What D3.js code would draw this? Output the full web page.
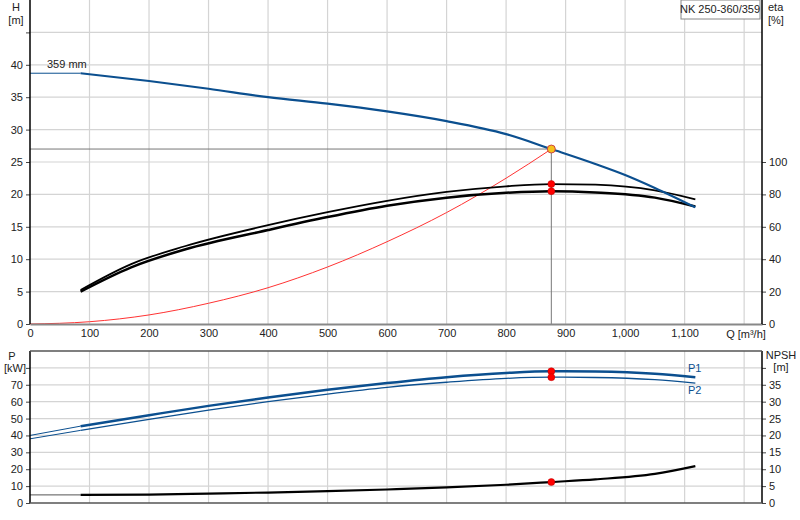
<!doctype html>
<meta charset="utf-8">
<style>
body{margin:0;background:#fff;font-family:Arial,"Liberation Sans",sans-serif}
text{font-size:11px;fill:#222}
</style>
<script src="https://cdn.jsdelivr.net/npm/d3@7"></script>
<svg id="c" width="800" height="520"></svg>
<script>
// pump curve data
var qH = [85,200,300,400,500,600,700,800,876,950,1000,1050,1118];
var head = [38.7,37.5,36.3,35.0,34.0,32.8,31.3,29.3,27.0,24.7,23.0,21.0,18.0];
var qEta = [85,170,260,400,500,600,700,800,876,950,1050,1118];
var eta1 = [21,37,48,61,69,76,81.5,85,86.4,86,82.5,77];
var eta2 = [20,35,46,58,66,73,78,81,82,81.2,78,72.5];
var qSys = [0,100,200,300,400,500,600,700,800,876];
var sysH = [0,0.35,1.4,3.2,5.6,8.8,12.7,17.2,22.5,27.0];
var qP = [85,200,300,400,500,600,700,800,876,950,1050,1118];
var p1 = [45.5,52,57.5,62.5,67,71,74.5,77,78,77.8,76.5,74.5];
var p2 = [43,49.5,55,60,64.5,68.5,71.5,73.8,74.5,74.3,73,71];
var npsh = [2.4,2.5,2.8,3.1,3.5,4.0,4.6,5.4,6.2,7.0,8.6,10.9];
var dutyQ = 876, dutyH = 27.0;
var xTicks = [0,100,200,300,400,500,600,700,800,900,1000,1100];

var svg = d3.select("#c");
var L = 30, R = 762;
var x = d3.scaleLinear().domain([0,1230]).range([L,R]);
var yH = d3.scaleLinear().domain([0,50]).range([324,0]);
var yEta = d3.scaleLinear().domain([0,200]).range([324,0]);
var yP = d3.scaleLinear().domain([0,90]).range([503,351]);
var yN = d3.scaleLinear().domain([0,45]).range([503,351]);
var grid = "#d4d4d4", blue = "#0b4f8f";

function gridlines(y0, y1, ys) {
  svg.append("g").selectAll("line").data(d3.range(100,1300,100)).enter().append("line")
    .attr("x1", x).attr("x2", x).attr("y1", y0).attr("y2", y1)
    .attr("stroke", grid).attr("stroke-width", 1.2);
  svg.append("g").selectAll("line").data(ys).enter().append("line")
    .attr("x1", L).attr("x2", R).attr("y1", d => d).attr("y2", d => d)
    .attr("stroke", grid).attr("stroke-width", 1.2);
}
gridlines(0, 324, d3.range(5,50,5).map(yH));
gridlines(351, 503, d3.range(10,90,10).map(yP));

var line = (xs, ys, sx, sy) => d3.line().curve(d3.curveMonotoneX)(xs.map((q,i) => [x(q), sy(ys[i])]));
function path(d, col, w) {
  svg.append("path").attr("d", d).attr("fill","none").attr("stroke",col).attr("stroke-width",w);
}
// thin lead-ins
path(d3.line()([[L,yH(head[0])],[x(qH[0]),yH(head[0])]]), blue, 1);
path(d3.line()([[L,yP(40)],[x(qP[0]),yP(p1[0])]]), blue, 1);
path(d3.line()([[L,yP(38)],[x(qP[0]),yP(p2[0])]]), blue, 1);
path(d3.line()([[L,yN(npsh[0])],[x(qP[0]),yN(npsh[0])]]), "#555", 1);

// duty lines
path(d3.line()([[L,yH(dutyH)],[x(dutyQ),yH(dutyH)],[x(dutyQ),324]]), "#777", 1);

path(line(qSys, sysH, x, yH), "#f33", 1);
path(line(qEta, eta1, x, yEta), "#000", 1.8);
path(line(qEta, eta2, x, yEta), "#000", 2.5);
path(line(qH, head, x, yH), blue, 2.2);
path(line(qP, p1, x, yP), blue, 2.5);
path(line(qP, p2, x, yP), blue, 1.3);
path(line(qP, npsh, x, yN), "#000", 2.2);

function dot(cx, cy, col) {
  svg.append("circle").attr("cx",cx).attr("cy",cy).attr("r",3.5).attr("fill",col).attr("stroke","#b00").attr("stroke-width",0.5);
}
var iD = qEta.indexOf(dutyQ);
dot(x(dutyQ), yEta(eta1[iD]), "#f00");
dot(x(dutyQ), yEta(eta2[iD]), "#f00");
svg.append("circle").attr("cx",x(dutyQ)).attr("cy",yH(dutyH)).attr("r",4).attr("fill","#f6c21b").attr("stroke","#c44").attr("stroke-width",1);
var iP = qP.indexOf(dutyQ);
dot(x(dutyQ), yP(p1[iP]), "#f00");
dot(x(dutyQ), yP(p2[iP]), "#f00");
dot(x(dutyQ), yN(npsh[iP]), "#f00");

// axes
svg.append("g").attr("transform","translate(0,324)").call(d3.axisBottom(x).tickValues(xTicks).tickSize(0).tickPadding(5).tickFormat(d3.format(",")))
  .call(g => g.select(".domain").attr("stroke","#888").attr("stroke-width",2));
function yAxis(scale, tx, gen, vals, fmt) {
  svg.append("g").attr("transform","translate("+tx+",0)")
    .call(gen(scale).tickValues(vals).tickSize(4).tickFormat(fmt))
    .call(g => g.select(".domain").remove())
    .call(g => g.selectAll("line").attr("stroke","#444"));
}
yAxis(yH, L, d3.axisLeft, d3.range(0,50,5), d => d <= 40 ? d : "");
yAxis(yEta, R, d3.axisRight, d3.range(0,120,20), d => d);
yAxis(yP, L, d3.axisLeft, d3.range(0,90,10), d => d <= 70 ? d : "");
yAxis(yN, R, d3.axisRight, d3.range(0,45,5), d => d <= 35 ? d : "");
[[0,324],[351,503]].forEach(r => {
  path(d3.line()([[L,r[0]],[L,r[1]]]), "#000", 1.5);
  path(d3.line()([[R,r[0]],[R,r[1]]]), "#000", 1.5);
});
path(d3.line()([[L,351],[R,351]]), "#555", 1.5);
path(d3.line()([[L,503],[R,503]]), "#555", 1.5);

function txt(t, px, py, a, col) {
  svg.append("text").attr("x",px).attr("y",py).attr("text-anchor",a||"start").style("fill",col||"#222").text(t);
}
txt("H", 16, 11, "middle"); txt("[m]", 16, 24, "middle");
txt("eta", 768, 11); txt("[%]", 768, 24);
txt("P", 12, 360, "middle"); txt("[kW]", 15, 372, "middle");
txt("NPSH", 781, 359, "middle"); txt("[m]", 781, 371, "middle");
txt("Q [m³/h]", 746, 338, "middle");
txt("359 mm", 47, 68);
txt("P1", 688, 372, "start", blue); txt("P2", 688, 394, "start", blue);
svg.append("rect").attr("x",681).attr("y",0).attr("width",79).attr("height",19).attr("fill","#fff").attr("stroke","#888");
txt("NK 250-360/359", 720, 13, "middle");
</script>
